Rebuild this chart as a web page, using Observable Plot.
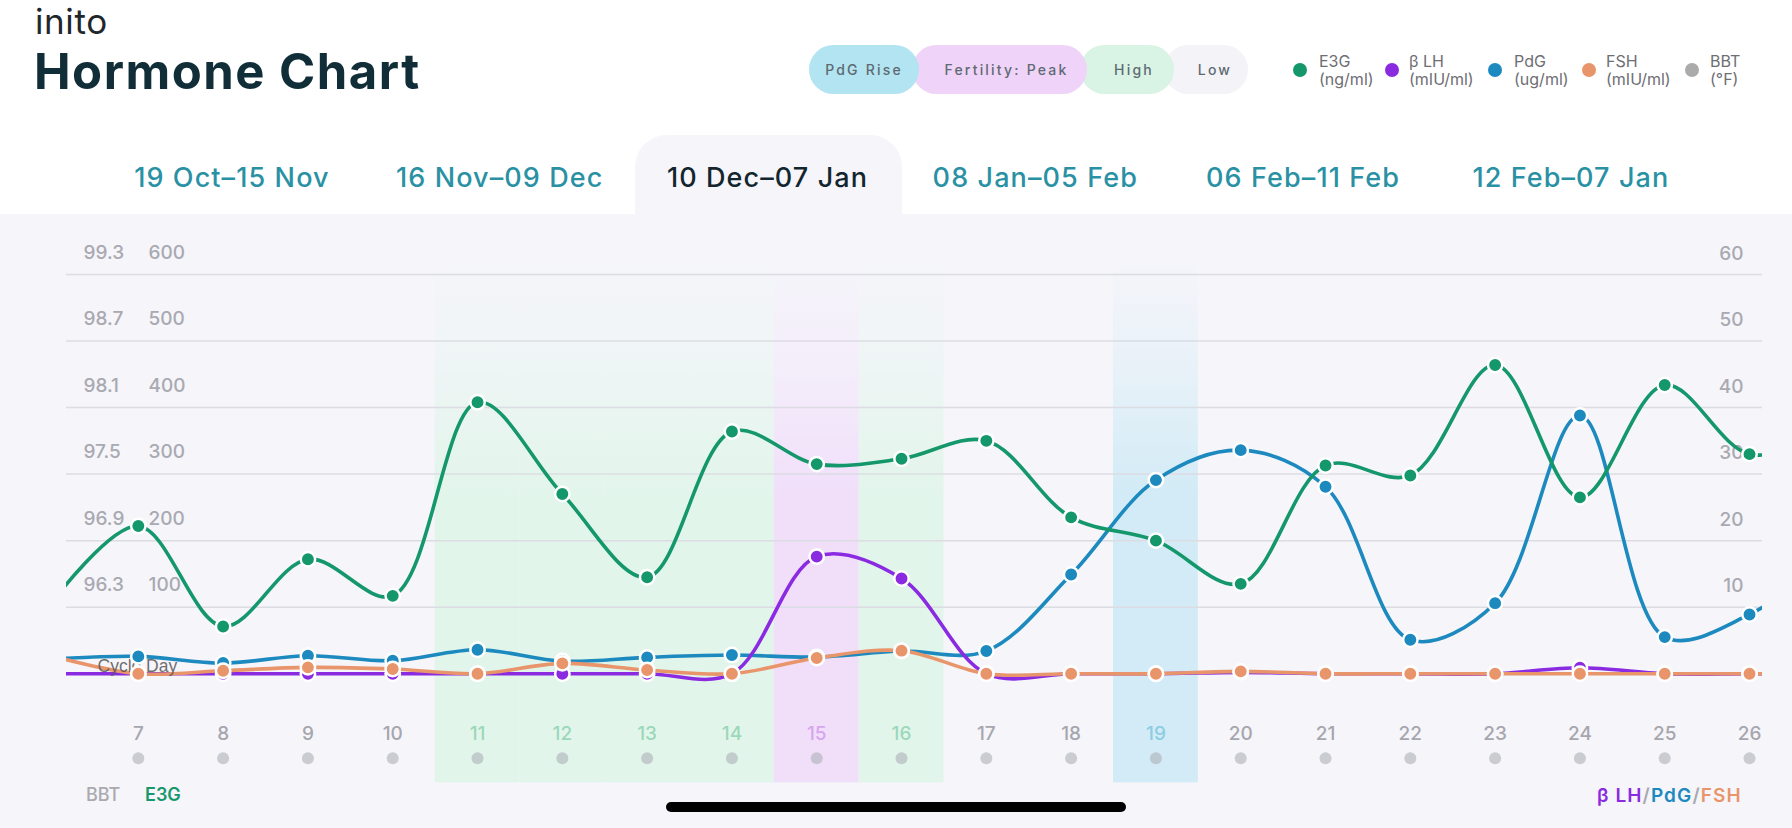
<!DOCTYPE html>
<html>
<head>
<meta charset="utf-8">
<script src="https://cdn.jsdelivr.net/npm/d3@7"></script>
<script src="https://cdn.jsdelivr.net/npm/@observablehq/plot@0.6"></script>
<style>
  html, body { margin:0; padding:0; }
  body { width:1792px; height:828px; overflow:hidden; background:#ffffff; position:relative;
         font-family: Inter, "Open Sans", "DejaVu Sans", sans-serif; }
  .abs { position:absolute; white-space:nowrap; }
  #logo { left:35px; top:6px; font-size:35px; line-height:0.9; color:#1f272c; font-weight:400; letter-spacing:0.6px; }
  #title { left:34px; top:47px; font-size:49px; line-height:1; color:#112d37; font-weight:700; letter-spacing:1.5px; }
  .pill { position:absolute; top:45px; height:49px; line-height:49px; border-radius:25px; text-align:center;
          font-size:14px; letter-spacing:2.2px; color:#5d6a72; font-weight:500; box-sizing:border-box; }
  .leg-dot { position:absolute; width:14px; height:14px; border-radius:7px; top:63px; }
  .leg-txt { position:absolute; top:52px; font-size:16px; line-height:18px; color:#6e6e73; }
  #tabbg { left:635px; top:135px; width:267px; height:79px; background:#f5f5fa; border-radius:32px 32px 0 0; }
  #tabs { left:98px; top:164px; display:flex; }
  .tab { width:267.8px; text-align:center; font-size:27px; line-height:1; font-weight:500; color:#2a91a5; letter-spacing:1.1px; }
  .tab.active { color:#13262e; }
  #chartbg { left:0; top:214px; width:1792px; height:614px; background:#f5f5fa; }
  #chart { position:absolute; left:0; top:214px; }
  .bottom-lbl { top:786px; font-size:18px; line-height:1; font-weight:500; }
  #homebar { left:666px; top:802px; width:460px; height:10px; border-radius:5px; background:#000; }
</style>
</head>
<body>
<div id="chartbg" class="abs"></div>
<div id="tabbg" class="abs"></div>
<div id="logo" class="abs">inito</div>
<div id="title" class="abs">Hormone Chart</div>
<div id="pills"></div>
<div id="legend"></div>
<div id="tabs" class="abs"></div>
<div id="chart"></div>
<div class="abs bottom-lbl" style="left:86px;color:#a9a9ae;">BBT</div>
<div class="abs bottom-lbl" style="left:145px;color:#16986c;font-weight:600;">E3G</div>
<div class="abs bottom-lbl" style="left:1597px;font-weight:600;font-size:19px;letter-spacing:1.1px;"><span style="color:#8a2be2">β LH</span><span style="color:#a9a9ae">/</span><span style="color:#1c89bf">PdG</span><span style="color:#a9a9ae">/</span><span style="color:#e9956b">FSH</span></div>
<div id="homebar" class="abs"></div>

<script>
// ---------------- data ----------------
const days = [6, 7, 8, 9, 10, 11, 12, 13, 14, 15, 16, 17, 18, 19, 20, 21, 22, 23, 24, 25, 26, 27];
const e3g  = [110, 222, 71, 172, 117, 408, 270, 145, 364, 315, 323, 350, 235, 200, 135, 313, 298, 464, 265, 434, 330, 360];
const lh   = [0, 0, 0, 0, 0, 0, 0, 0, 0, 17.6, 14.3, 0, 0, 0, 0.2, 0, 0, 0, 0.9, 0, 0, 0];
const pdg  = [2.2, 2.6, 1.6, 2.7, 1.95, 3.6, 1.9, 2.45, 2.8, 2.5, 3.4, 3.4, 14.9, 29.1, 33.6, 28.1, 5.1, 10.6, 38.8, 5.5, 8.9, 18];
const fsh  = [2.6, 0, 0.45, 0.95, 0.7, 0, 1.55, 0.55, 0, 2.36, 3.46, 0, 0, 0, 0.35, 0, 0, 0, 0, 0, 0, 0];

const shownDays = [7, 8, 9, 10, 11, 12, 13, 14, 15, 16, 17, 18, 19, 20, 21, 22, 23, 24, 25, 26];
const highDays = [11, 12, 13, 14, 16];
const peakDays = [15];
const pdgRiseDays = [19];

const e3gTicks = [100, 200, 300, 400, 500, 600];
const bbtTickLabels = ["96.3", "96.9", "97.5", "98.1", "98.7", "99.3"];
const rightTicks = [10, 20, 30, 40, 50, 60];
const rightAxisRatio = 600 / 60;

const tabLabels = ["19 Oct–15 Nov", "16 Nov–09 Dec", "10 Dec–07 Jan", "08 Jan–05 Feb", "06 Feb–11 Feb", "12 Feb–07 Jan"];
const activeTab = 2;

const pillLabels = ["PdG Rise", "Fertility: Peak", "High", "Low"];
const legendNames = ["E3G", "β LH", "PdG", "FSH", "BBT"];
const legendUnits = ["(ng/ml)", "(mIU/ml)", "(ug/ml)", "(mIU/ml)", "(°F)"];

// ---------------- colours ----------------
const C = { E3G:"#15976c", LH:"#8a2be2", PdG:"#1c89bf", FSH:"#e9956b", BBT:"#ababab" };

// ---------------- header ----------------
const pillStyles = [
  {left:809, width:110, bg:"#b3e4f1", pad:0,  z:4},
  {left:912, width:175, bg:"#f0d3f8", pad:14, z:3},
  {left:1080, width:94, bg:"#d9f4e5", pad:14, z:2},
  {left:1164, width:84, bg:"#f3f3f8", pad:18, z:1}
];
const pillsEl = document.getElementById("pills");
pillLabels.forEach((t, i) => {
  const s = pillStyles[i];
  const d = document.createElement("div");
  d.className = "pill";
  d.textContent = t;
  Object.assign(d.style, {left:s.left+"px", width:s.width+"px", background:s.bg, paddingLeft:s.pad+"px", zIndex:s.z});
  pillsEl.appendChild(d);
});

const legendColors = [C.E3G, C.LH, C.PdG, C.FSH, C.BBT];
const legendDotX = [1293, 1385, 1488, 1582, 1685];
const legendTxtX = [1319, 1409, 1514, 1606, 1710];
const legEl = document.getElementById("legend");
legendNames.forEach((n, i) => {
  const dot = document.createElement("div");
  dot.className = "leg-dot";
  dot.style.left = legendDotX[i] + "px";
  dot.style.background = legendColors[i];
  legEl.appendChild(dot);
  const t = document.createElement("div");
  t.className = "leg-txt";
  t.style.left = legendTxtX[i] + "px";
  t.innerHTML = n + "<br>" + legendUnits[i];
  legEl.appendChild(t);
});

const tabsEl = document.getElementById("tabs");
tabLabels.forEach((t, i) => {
  const d = document.createElement("div");
  d.className = "tab" + (i === activeTab ? " active" : "");
  d.textContent = t;
  tabsEl.appendChild(d);
});

// ---------------- chart ----------------
const seriesDefs = [
  {key:"PdG", values:pdg, color:C.PdG, factor:rightAxisRatio},
  {key:"LH",  values:lh,  color:C.LH,  factor:rightAxisRatio},
  {key:"FSH", values:fsh, color:C.FSH, factor:rightAxisRatio},
  {key:"E3G", values:e3g, color:C.E3G, factor:1}
];

function dayColor(d) {
  if (peakDays.includes(d)) return "#d6a6ee";
  if (pdgRiseDays.includes(d)) return "#8dcde2";
  if (highDays.includes(d)) return "#9bd8b9";
  return "#a6a6ae";
}

const axisFont = {fontSize:19, fill:"#a9a9b1", fontWeight:500};

const marks = [
  Plot.rect(highDays, {x1:d => d - 0.5, x2:d => d + 0.5, y1:-164, y2:620, fill:"url(#gHigh)"}),
  Plot.rect(peakDays, {x1:d => d - 0.5, x2:d => d + 0.5, y1:-164, y2:620, fill:"url(#gPeak)"}),
  Plot.rect(pdgRiseDays, {x1:d => d - 0.5, x2:d => d + 0.5, y1:-164, y2:620, fill:"url(#gPdg)"}),
  Plot.ruleY(e3gTicks, {stroke:"#dcdce3", strokeWidth:1.5}),
  Plot.text(bbtTickLabels, {y:(d, i) => e3gTicks[i], text:d => d, frameAnchor:"left", dx:17, dy:-22, textAnchor:"start", ...axisFont}),
  Plot.text(e3gTicks, {y:d => d, text:d => String(d), frameAnchor:"left", dx:82, dy:-22, textAnchor:"start", ...axisFont}),
  Plot.text(rightTicks, {y:d => d * rightAxisRatio, text:d => String(d), frameAnchor:"right", dx:-19, dy:-21, textAnchor:"end", ...axisFont}),
  Plot.text(shownDays, {x:d => d, y:-90, text:d => String(d), fill:d => dayColor(d), fontSize:19, fontWeight:500}),
  Plot.dot(shownDays, {x:d => d, y:-127, r:6, fill:"#aeb0b8", fillOpacity:0.6})
];

seriesDefs.forEach(s => {
  const rows = days.map((d, i) => ({day:d, y:s.values[i] * s.factor}));
  marks.push(Plot.line(rows, {x:"day", y:"y", stroke:s.color, strokeWidth:3.6, curve:"catmull-rom", clip:true}));
});
marks.push(Plot.text(["Cycle Day"], {text:d => d, y:0, dy:-7, frameAnchor:"left", dx:31, textAnchor:"start",
  fontSize:17.5, fill:"#555", fillOpacity:0.85, fontFamily:"'Liberation Sans', Arial, sans-serif"}));
seriesDefs.forEach(s => {
  const rows = days.map((d, i) => ({day:d, y:s.values[i] * s.factor})).filter(r => shownDays.includes(r.day));
  marks.push(Plot.dot(rows, {x:"day", y:"y", r:7.2, fill:s.color, stroke:"white", strokeWidth:2.5}));
});

const svg = Plot.plot({
  width:1792, height:614,
  marginLeft:66, marginRight:30, marginTop:60, marginBottom:41.7,
  x:{domain:[6.153, 26.153], axis:null},
  y:{domain:[-170, 600], axis:null},
  style:{background:"transparent", overflow:"visible", fontFamily:"Inter, 'Open Sans', sans-serif"},
  marks
});

const defs = d3.select(svg).insert("defs", ":first-child");
[["gHigh", "#e2f5eb"], ["gPeak", "#f1dffa"], ["gPdg", "#d2ebf6"]].forEach(([id, col]) => {
  const g = defs.append("linearGradient").attr("id", id).attr("x1", 0).attr("y1", 0).attr("x2", 0).attr("y2", 1);
  g.append("stop").attr("offset", 0).attr("stop-color", col).attr("stop-opacity", 0);
  g.append("stop").attr("offset", 0.2).attr("stop-color", col).attr("stop-opacity", 0.35);
  g.append("stop").attr("offset", 0.45).attr("stop-color", col).attr("stop-opacity", 1);
  g.append("stop").attr("offset", 1).attr("stop-color", col).attr("stop-opacity", 1);
});

document.getElementById("chart").appendChild(svg);
</script>
</body>
</html>
